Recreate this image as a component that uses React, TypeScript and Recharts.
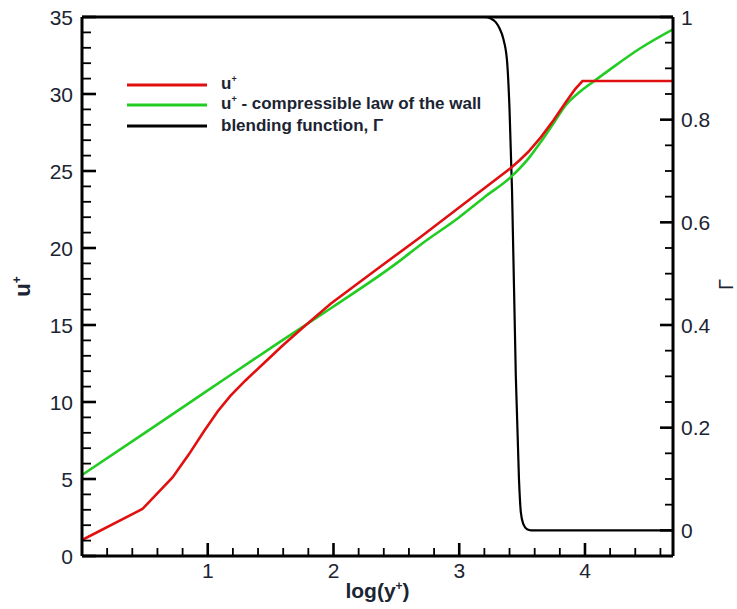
import React from 'react';
import { LineChart, Line, XAxis, YAxis, ReferenceLine, Legend } from 'recharts';

// ---- data ----
const redX = [0, 0.48, 0.72, 0.85, 0.97, 1.08, 1.18, 1.3, 1.45, 1.6, 1.76, 1.98, 2.35, 2.69, 3.09, 3.41, 3.48, 3.55, 3.65, 3.75, 3.85, 3.92, 3.98, 4.7];
const redY = [1.04, 3.05, 5.1, 6.6, 8.1, 9.4, 10.4, 11.4, 12.55, 13.7, 14.85, 16.4, 18.65, 20.7, 23.2, 25.2, 25.7, 26.25, 27.2, 28.3, 29.5, 30.3, 30.84, 30.84];

const greenX = [0, 0.5, 1, 1.5, 2, 2.5, 2.69, 3.0, 3.2, 3.41, 3.55, 3.65, 3.75, 3.85, 3.96, 4.05, 4.2, 4.44, 4.7];
const greenY = [5.26, 8.0, 10.75, 13.5, 16.2, 19.0, 20.2, 22.0, 23.3, 24.6, 25.8, 26.9, 28.1, 29.3, 30.15, 30.7, 31.6, 32.97, 34.2];

const gammaX = [0, 3.2, 3.25, 3.29, 3.32, 3.35, 3.38, 3.4, 3.42, 3.45, 3.475, 3.49, 3.51, 3.54, 3.57, 4.7];
const gammaY = [1, 1, 0.997, 0.99, 0.978, 0.958, 0.915, 0.82, 0.66, 0.3, 0.1, 0.035, 0.012, 0.002, 0, 0];

// ---- ticks ----
const xTicks = [0.2, 0.4, 0.6, 0.8, 1, 1.2, 1.4, 1.6, 1.8, 2, 2.2, 2.4, 2.6, 2.8, 3, 3.2, 3.4, 3.6, 3.8, 4, 4.2, 4.4, 4.6];
const xMajor = [1, 2, 3, 4];
const leftTicks = [0, 1, 2, 3, 4, 5, 6, 7, 8, 9, 10, 11, 12, 13, 14, 15, 16, 17, 18, 19, 20, 21, 22, 23, 24, 25, 26, 27, 28, 29, 30, 31, 32, 33, 34, 35];
const leftMajor = [0, 5, 10, 15, 20, 25, 30, 35];
const rightTicks = [0, 0.05, 0.1, 0.15, 0.2, 0.25, 0.3, 0.35, 0.4, 0.45, 0.5, 0.55, 0.6, 0.65, 0.7, 0.75, 0.8, 0.85, 0.9, 0.95, 1];
const rightMajor = [0, 0.2, 0.4, 0.6, 0.8, 1];

const toPts = (xs: number[], ys: number[]) => xs.map((x, i) => ({ x, y: ys[i] }));
const redData = toPts(redX, redY);
const greenData = toPts(greenX, greenY);
const gammaData = toPts(gammaX, gammaY);

const legendItems = [
  { key: 'red', color: '#e01010', label: 'u', sup: '+', rest: '' },
  { key: 'green', color: '#22cc22', label: 'u', sup: '+', rest: ' - compressible law of the wall' },
  { key: 'black', color: '#000000', label: 'blending function, \u0393', sup: '', rest: '' },
];

const FONT = '"Liberation Sans", Arial, Helvetica, sans-serif';
const TXT = '#1b2433';

const LeftTick = (props: any) => {
  const { x, y, payload } = props;
  const v = payload.value;
  const major = leftMajor.includes(v);
  return (
    <g>
      <line x1={x} x2={x + (major ? 14 : 9)} y1={y} y2={y} stroke="#000" strokeWidth={major ? 2.6 : 1.8} />
      {major && (
        <text x={x - 9} y={y} dy="0.36em" textAnchor="end" fontSize={21} fontFamily={FONT} fill={TXT}>
          {v}
        </text>
      )}
    </g>
  );
};

const RightTick = (props: any) => {
  const { x, y, payload } = props;
  const v = payload.value;
  const major = rightMajor.includes(v);
  return (
    <g>
      <line x1={x} x2={x - (major ? 13 : 8)} y1={y} y2={y} stroke="#000" strokeWidth={major ? 2.6 : 1.8} />
      {major && (
        <text x={x + 8} y={y} dy="0.36em" textAnchor="start" fontSize={21} fontFamily={FONT} fill={TXT}>
          {v}
        </text>
      )}
    </g>
  );
};

const BottomTick = (props: any) => {
  const { x, y, payload } = props;
  const v = payload.value;
  const major = xMajor.includes(v);
  return (
    <g>
      <line x1={x} x2={x} y1={y} y2={y - (major ? 13 : 8)} stroke="#000" strokeWidth={major ? 2.6 : 1.8} />
      {major && (
        <text x={x} y={y + 22} textAnchor="middle" fontSize={21} fontFamily={FONT} fill={TXT}>
          {v}
        </text>
      )}
    </g>
  );
};

const XTitle = (props: any) => {
  const vb = props.viewBox || { x: 82, y: 556, width: 591, height: 53 };
  const cx = vb.x + vb.width / 2;
  return (
    <text x={cx} y={vb.y + 42} textAnchor="middle" fontSize={21} fontWeight="bold" fontFamily={FONT} fill={TXT}>
      log(y<tspan dy={-8} fontSize={12}>+</tspan>
      <tspan dy={8}>)</tspan>
    </text>
  );
};

const YTitleLeft = (props: any) => {
  const vb = props.viewBox || { x: 0, y: 17, width: 82, height: 539 };
  const cy = vb.y + vb.height / 2;
  const bx = 30;
  return (
    <text x={bx} y={cy} transform={`rotate(-90 ${bx} ${cy})`} textAnchor="middle" fontSize={22} fontWeight="bold" fontFamily={FONT} fill={TXT}>
      u<tspan dy={-9} fontSize={12}>+</tspan>
    </text>
  );
};

const YTitleRight = (props: any) => {
  const vb = props.viewBox || { x: 673, y: 17, width: 64, height: 539 };
  const cy = vb.y + vb.height / 2 - 2;
  const bx = vb.x + vb.width - 4;
  return (
    <text x={bx} y={cy} transform={`rotate(-90 ${bx} ${cy})`} textAnchor="middle" fontSize={20} fontFamily={FONT} fill={TXT}>
      {'\u0393'}
    </text>
  );
};

const LegendContent = () => (
  <div style={{ fontFamily: FONT, color: TXT }}>
    {legendItems.map((it) => (
      <div key={it.key} style={{ display: 'flex', alignItems: 'center', height: 20.5 }}>
        <svg width={94} height={8} style={{ display: 'block' }}>
          <line x1={0} x2={80} y1={4} y2={4} stroke={it.color} strokeWidth={3} />
        </svg>
        <span style={{ fontSize: 17, fontWeight: 'bold', whiteSpace: 'nowrap', lineHeight: '20px' }}>
          {it.label}
          {it.sup && <span style={{ fontSize: 9, position: 'relative', top: -7 }}>{it.sup}</span>}
          {it.rest}
        </span>
      </div>
    ))}
  </div>
);

export default function App() {
  return (
    <div style={{ position: 'absolute', left: 0, top: 0, background: '#fff' }}>
      <LineChart width={737} height={609} margin={{ top: 17, right: 0, bottom: 0, left: 0 }}>
        <XAxis
          type="number"
          dataKey="x"
          domain={[0, 4.7]}
          ticks={xTicks}
          interval={0}
          height={53}
          allowDataOverflow
          axisLine={{ stroke: '#000', strokeWidth: 3 }}
          tickLine={false}
          tickSize={0}
          tickMargin={0}
          tick={<BottomTick />}
          label={(p: any) => <XTitle {...p} />}
        />
        <YAxis
          yAxisId="left"
          type="number"
          dataKey="y"
          domain={[0, 35]}
          ticks={leftTicks}
          interval={0}
          width={82}
          allowDataOverflow
          axisLine={{ stroke: '#000', strokeWidth: 3 }}
          tickLine={false}
          tickSize={0}
          tickMargin={0}
          tick={<LeftTick />}
          label={(p: any) => <YTitleLeft {...p} />}
        />
        <YAxis
          yAxisId="right"
          orientation="right"
          type="number"
          dataKey="y"
          domain={[-0.05, 1]}
          ticks={rightTicks}
          interval={0}
          width={64}
          allowDataOverflow
          axisLine={{ stroke: '#000', strokeWidth: 3 }}
          tickLine={false}
          tickSize={0}
          tickMargin={0}
          tick={<RightTick />}
          label={(p: any) => <YTitleRight {...p} />}
        />
        <ReferenceLine yAxisId="left" y={35} stroke="#000" strokeWidth={3} ifOverflow="visible" />
        <Legend
          layout="vertical"
          align="center"
          verticalAlign="middle"
          content={<LegendContent />}
          wrapperStyle={{ left: 127, top: 74.5, width: 420, height: 62 }}
        />
        <Line yAxisId="right" data={gammaData} dataKey="y" type="monotone" stroke="#000" strokeWidth={2.2} dot={false} isAnimationActive={false} />
        <Line yAxisId="left" data={greenData} dataKey="y" type="monotone" stroke="#22cc22" strokeWidth={2.6} dot={false} isAnimationActive={false} />
        <Line yAxisId="left" data={redData} dataKey="y" type="linear" stroke="#e01010" strokeWidth={2.6} dot={false} isAnimationActive={false} />
      </LineChart>
    </div>
  );
}
